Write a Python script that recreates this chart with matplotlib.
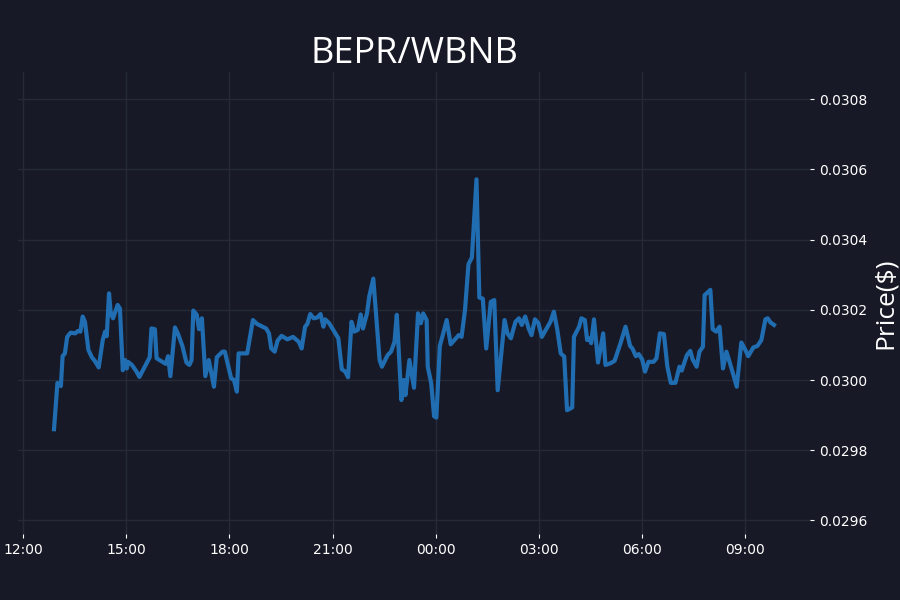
import pandas as pd
import matplotlib
matplotlib.use("Agg")
import matplotlib.pyplot as plt
import matplotlib.dates as mdates
from matplotlib.ticker import MultipleLocator, FormatStrFormatter

# sampled price points (time of day, price in BNB)
times = ["12:54", "13:00", "13:06", "13:09", "13:13", "13:17", "13:23", "13:31", "13:36", "13:40",
         "13:44", "13:48", "13:54", "14:00", "14:05", "14:12", "14:19", "14:23", "14:26", "14:30",
         "14:33", "14:37", "14:45", "14:49", "14:54", "14:58", "15:01", "15:03", "15:10", "15:18",
         "15:23", "15:41", "15:44", "15:50", "15:53", "16:00", "16:09", "16:13", "16:17", "16:25",
         "16:30", "16:38", "16:45", "16:50", "16:54", "16:57", "17:03", "17:07", "17:12", "17:18",
         "17:24", "17:33", "17:38", "17:48", "17:52", "18:03", "18:08", "18:13", "18:16", "18:31",
         "18:41", "18:48", "19:04", "19:09", "19:13", "19:19", "19:24", "19:31", "19:41", "19:51",
         "20:01", "20:06", "20:12", "20:16", "20:21", "20:27", "20:33", "20:39", "20:44", "20:47",
         "20:54", "21:03", "21:10", "21:16", "21:22", "21:27", "21:33", "21:38", "21:44", "21:49",
         "21:53", "22:00", "22:04", "22:11", "22:22", "22:26", "22:36", "22:42", "22:48", "22:52",
         "23:00", "23:04", "23:07", "23:14", "23:22", "23:29", "23:34", "23:38", "23:44", "23:46",
         "23:52", "23:57", "00:01", "00:07", "00:13", "00:19", "00:26", "00:35", "00:40", "00:45",
         "00:51", "00:57", "01:03", "01:11", "01:16", "01:22", "01:28", "01:36", "01:42", "01:48",
         "02:00", "02:05", "02:11", "02:19", "02:25", "02:30", "02:36", "02:42", "02:47", "02:53",
         "02:59", "03:05", "03:12", "03:20", "03:26", "03:32", "03:38", "03:44", "03:49", "03:58",
         "04:01", "04:10", "04:14", "04:20", "04:24", "04:28", "04:31", "04:36", "04:43", "04:52",
         "04:56", "05:05", "05:12", "05:23", "05:31", "05:39", "05:43", "05:49", "05:54", "06:00",
         "06:05", "06:11", "06:20", "06:25", "06:31", "06:38", "06:44", "06:50", "06:58", "07:05",
         "07:09", "07:18", "07:24", "07:28", "07:35", "07:40", "07:46", "07:49", "07:59", "08:03",
         "08:09", "08:15", "08:21", "08:27", "08:35", "08:45", "08:53", "09:00", "09:05", "09:14",
         "09:21", "09:28", "09:35", "09:39", "09:44", "09:50"]

prices = [0.029860, 0.029992, 0.029983, 0.030068, 0.030076, 0.030123, 0.030135, 0.030133, 0.030140, 0.030138,
          0.030181, 0.030166, 0.030086, 0.030065, 0.030055, 0.030036, 0.030114, 0.030138, 0.030125, 0.030247,
          0.030190, 0.030176, 0.030214, 0.030204, 0.030028, 0.030057, 0.030033, 0.030052, 0.030043, 0.030024,
          0.030009, 0.030065, 0.030147, 0.030145, 0.030062, 0.030055, 0.030046, 0.030068, 0.030011, 0.030150,
          0.030133, 0.030097, 0.030050, 0.030043, 0.030057, 0.030198, 0.030186, 0.030145, 0.030176, 0.030011,
          0.030057, 0.029981, 0.030065, 0.030081, 0.030081, 0.030005, 0.030000, 0.029967, 0.030076, 0.030076,
          0.030171, 0.030160, 0.030147, 0.030133, 0.030090, 0.030081, 0.030112, 0.030126, 0.030116, 0.030123,
          0.030109, 0.030090, 0.030152, 0.030160, 0.030188, 0.030176, 0.030178, 0.030188, 0.030152, 0.030173,
          0.030162, 0.030138, 0.030119, 0.030031, 0.030024, 0.030008, 0.030166, 0.030138, 0.030143, 0.030187,
          0.030147, 0.030190, 0.030239, 0.030289, 0.030057, 0.030038, 0.030071, 0.030081, 0.030109, 0.030186,
          0.029943, 0.030000, 0.029957, 0.030057, 0.029978, 0.030190, 0.030162, 0.030190, 0.030171, 0.030038,
          0.029991, 0.029897, 0.029893, 0.030097, 0.030133, 0.030171, 0.030102, 0.030119, 0.030128, 0.030123,
          0.030200, 0.030330, 0.030349, 0.030572, 0.030235, 0.030232, 0.030090, 0.030223, 0.030228, 0.029971,
          0.030171, 0.030133, 0.030119, 0.030166, 0.030176, 0.030157, 0.030181, 0.030147, 0.030128, 0.030173,
          0.030162, 0.030123, 0.030143, 0.030166, 0.030195, 0.030143, 0.030076, 0.030067, 0.029914, 0.029922,
          0.030123, 0.030152, 0.030176, 0.030171, 0.030114, 0.030119, 0.030105, 0.030173, 0.030050, 0.030133,
          0.030043, 0.030048, 0.030055, 0.030109, 0.030152, 0.030097, 0.030090, 0.030068, 0.030074, 0.030059,
          0.030024, 0.030052, 0.030052, 0.030062, 0.030133, 0.030131, 0.030038, 0.029992, 0.029992, 0.030038,
          0.030027, 0.030071, 0.030083, 0.030059, 0.030038, 0.030081, 0.030095, 0.030242, 0.030257, 0.030145,
          0.030138, 0.030152, 0.030033, 0.030081, 0.030038, 0.029981, 0.030107, 0.030086, 0.030068, 0.030093,
          0.030097, 0.030114, 0.030173, 0.030176, 0.030164, 0.030157]

pair = "BEPR/WBNB"

# turn the HH:MM strings into datetimes, rolling over at midnight
dates = []
day = pd.Timestamp("2021-06-01")
prev = None
for t in times:
    ts = pd.Timestamp(f"{day.date()} {t}")
    if prev is not None and ts < prev:
        day = day + pd.Timedelta(days=1)
        ts = pd.Timestamp(f"{day.date()} {t}")
    dates.append(ts)
    prev = ts

bg = "#171926"

fig, ax = plt.subplots(figsize=(9, 6), dpi=100)
fig.patch.set_facecolor(bg)
ax.set_facecolor(bg)
plt.subplots_adjust(left=0.02, right=0.9, bottom=0.11, top=0.88)

ax.plot(dates, prices, color="#206db2", linewidth=3)

ax.set_ylim(min(prices) * 0.99, max(prices) * 1.01)
ax.yaxis.set_major_locator(MultipleLocator(0.0002))
ax.yaxis.set_major_formatter(FormatStrFormatter("%.4f"))
ax.yaxis.tick_right()
ax.yaxis.set_label_position("right")

ax.xaxis.set_major_locator(mdates.HourLocator(byhour=range(0, 24, 3)))
ax.xaxis.set_major_formatter(mdates.DateFormatter("%H:%M"))

for s in ax.spines.values():
    s.set_visible(False)
ax.grid(True, color="#262936", linewidth=1)
ax.tick_params(colors="white", labelsize=10, length=3)

ax.set_title(pair, color="white", fontsize=26, family="Open Sans", pad=1)
ax.set_ylabel("Price($)", color="white", fontsize=19, family="Open Sans")

plt.savefig("out.png", facecolor=bg)
